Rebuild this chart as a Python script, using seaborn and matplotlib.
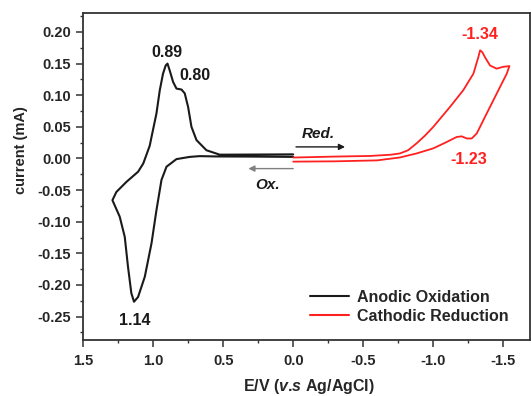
import matplotlib
matplotlib.use("Agg")
import matplotlib.pyplot as plt
import seaborn as sns
import pandas as pd
from matplotlib.ticker import MultipleLocator

# ---------------- data ----------------
anodic_E = [0.00, 0.30, 0.55, 0.667, 0.738, 0.833, 0.904, 0.94, 0.976, 1.011,
            1.059, 1.107, 1.136, 1.155, 1.179, 1.202, 1.238, 1.29,
            1.262, 1.19, 1.107, 1.07, 1.047, 1.024, 1.011, 0.976, 0.952,
            0.929, 0.91, 0.897, 0.881, 0.857, 0.833, 0.797, 0.774, 0.75,
            0.726, 0.69, 0.619, 0.524, 0.30, 0.00]
anodic_I = [0.0025, 0.003, 0.0032, 0.0037, 0.0025, -0.001, -0.013, -0.034, -0.082, -0.134,
            -0.187, -0.219, -0.2265, -0.213, -0.171, -0.124, -0.092, -0.066,
            -0.053, -0.037, -0.021, -0.008, 0.006, 0.02, 0.034, 0.071, 0.108,
            0.134, 0.147, 0.150, 0.139, 0.121, 0.1105, 0.109, 0.103, 0.0815,
            0.05, 0.029, 0.013, 0.006, 0.0062, 0.0065]

cathodic_E = [0.00, -0.30, -0.55, -0.70, -0.762, -0.82, -0.881, -0.94, -1.0, -1.119,
              -1.214, -1.286, -1.321, -1.334, -1.35, -1.369, -1.405, -1.452, -1.50, -1.543,
              -1.524, -1.476, -1.417, -1.357, -1.31, -1.274, -1.24, -1.202, -1.167, -1.095,
              -1.0, -0.881, -0.762, -0.60, -0.30, 0.00]
cathodic_I = [0.0015, 0.003, 0.004, 0.006, 0.008, 0.013, 0.024, 0.036, 0.05, 0.0815,
              0.108, 0.134, 0.160, 0.171, 0.168, 0.160, 0.147, 0.142, 0.145, 0.146,
              0.134, 0.113, 0.087, 0.0605, 0.0395, 0.0316, 0.0316, 0.035, 0.034, 0.026,
              0.016, 0.008, 0.0016, -0.003, -0.0045, -0.005]

series_names = ["Anodic Oxidation", "Cathodic Reduction"]
peak_labels = ["0.89", "0.80", "1.14", "-1.34", "-1.23"]
x_ticks = [1.5, 1.0, 0.5, 0.0, -0.5, -1.0, -1.5]
y_ticks = [-0.25, -0.20, -0.15, -0.10, -0.05, 0.00, 0.05, 0.10, 0.15, 0.20]

# ---------------- build table ----------------
df = pd.concat([
    pd.DataFrame({"E": anodic_E, "I": anodic_I, "series": series_names[0]}),
    pd.DataFrame({"E": cathodic_E, "I": cathodic_I, "series": series_names[1]}),
], ignore_index=True)

sns.set_style("ticks")
plt.rcParams["font.family"] = ["Liberation Sans", "DejaVu Sans"]
plt.rcParams["font.weight"] = "bold"
plt.rcParams["mathtext.fontset"] = "custom"
plt.rcParams["mathtext.rm"] = "Liberation Sans:bold"
plt.rcParams["mathtext.bf"] = "Liberation Sans:bold"
plt.rcParams["mathtext.it"] = "Liberation Sans:italic:bold"
plt.rcParams["mathtext.bfit"] = "Liberation Sans:italic:bold"

fig = plt.figure(figsize=(5.31, 3.96), dpi=100)
ax = fig.add_axes([83 / 531, 56 / 396, 447 / 531, 327 / 396])

sns.lineplot(data=df, x="E", y="I", hue="series", sort=False, estimator=None,
             units="series", palette={series_names[0]: "#1a1a1a", series_names[1]: "#ff2020"},
             ax=ax, legend=True)
for ln, lw in zip(ax.lines, [1.5, 1.3]):
    ln.set_linewidth(lw)

ax.set_xlim(1.5, -1.69)
ax.set_ylim(-0.287, 0.23)
ax.set_xticks(x_ticks)
ax.set_xticklabels([f"{v:.1f}" for v in x_ticks])
ax.set_yticks(y_ticks)
ax.set_yticklabels([f"{v:.2f}" for v in y_ticks])
ax.xaxis.set_minor_locator(MultipleLocator(0.25))
ax.yaxis.set_minor_locator(MultipleLocator(0.025))
ax.tick_params(which="major", direction="out", length=5, width=1.1, labelsize=10.5,
               pad=3.5, color="#333333")
ax.tick_params(which="minor", direction="out", length=2.5, width=1.0, color="#333333")
ax.tick_params(axis="x", which="major", pad=5)
for lab in ax.get_xticklabels() + ax.get_yticklabels():
    lab.set_fontweight("bold")
for sp in ax.spines.values():
    sp.set_visible(True)
    sp.set_linewidth(1.3)
    sp.set_color("#333333")

ax.set_xlabel(r"E/V ($\mathbfit{v}$.$\mathbfit{s}$ Ag/AgCl)", fontsize=11.5, fontweight="bold")
ax.set_ylabel("current (mA)", fontsize=10.5, fontweight="bold")
ax.xaxis.set_label_coords(0.505, -0.112)
ax.yaxis.set_label_coords(-0.123, 0.58)

# peak annotations
ax.text(0.90, 0.168, peak_labels[0], ha="center", va="center", fontsize=11.5, fontweight="bold", color="#1a1a1a")
ax.text(0.70, 0.131, peak_labels[1], ha="center", va="center", fontsize=11.5, fontweight="bold", color="#1a1a1a")
ax.text(1.13, -0.256, peak_labels[2], ha="center", va="center", fontsize=11.5, fontweight="bold", color="#1a1a1a")
ax.text(-1.33, 0.196, peak_labels[3], ha="center", va="center", fontsize=11.5, fontweight="bold", color="#ff2020")
ax.text(-1.25, -0.002, peak_labels[4], ha="center", va="center", fontsize=11.5, fontweight="bold", color="#ff2020")

# scan direction arrows
ax.annotate("", xy=(-0.37, 0.0183), xytext=(-0.02, 0.0183),
            arrowprops=dict(arrowstyle="-|>", color="#1a1a1a", lw=1.0, mutation_scale=9,
                            shrinkA=0, shrinkB=0))
ax.text(-0.18, 0.038, "Red.", ha="center", va="center", fontsize=11, fontweight="bold",
        fontstyle="italic", color="#1a1a1a")
ax.annotate("", xy=(0.32, -0.016), xytext=(0.0, -0.016),
            arrowprops=dict(arrowstyle="-|>", color="#808080", lw=1.0, mutation_scale=9,
                            shrinkA=0, shrinkB=0))
ax.text(0.18, -0.042, "Ox.", ha="center", va="center", fontsize=11, fontweight="bold",
        fontstyle="italic", color="#1a1a1a")

leg = ax.legend(loc="lower right", bbox_to_anchor=(0.953, 0.05), frameon=False,
                fontsize=11.5, handlelength=2.4, handletextpad=0.55, borderpad=0,
                labelspacing=0.25, borderaxespad=0)
for t in leg.get_texts():
    t.set_fontweight("bold")
for h in leg.get_lines():
    h.set_linewidth(1.5)

fig.savefig("out.png", dpi=100)
